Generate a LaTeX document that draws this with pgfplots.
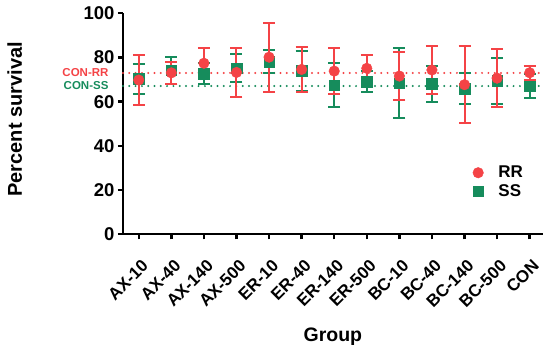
\documentclass[border=0pt]{standalone}
\usepackage{fontspec}
\setmainfont{Liberation Sans}
\usepackage{pgfplots}
\pgfplotsset{compat=1.18}
\usepackage{pgfplotstable}
\definecolor{rrred}{RGB}{244,67,70}
\definecolor{ssgreen}{RGB}{22,140,92}

\pgfplotstableread{
x y e
0 69.8 11.3
1 73.05 5.05
2 77.4 7.0
3 73.25 10.95
4 80.15 15.65
5 74.6 10.3
6 73.85 10.35
7 75.1 6.2
8 71.6 10.8
9 74.35 10.85
10 67.7 17.5
11 70.65 13.15
12 73.1 3.2
}\rrdata

\pgfplotstableread{
x y e
0 70.35 6.85
1 74.3 6.1
2 72.7 4.8
3 75.2 6.3
4 78.1 5.3
5 73.95 9.15
6 67.55 10.05
7 69.1 4.7
8 68.4 15.9
9 68.15 8.15
10 66.0 7.0
11 69.4 10.5
12 67.1 5.3
}\ssdata

\begin{document}
\begin{tikzpicture}
\useasboundingbox (-123pt,-110.7pt) rectangle (427pt,234.3pt);
\begin{axis}[
  scale only axis, width=419.7pt, height=221pt,
  xmin=-0.484, xmax=12.4, ymin=0, ymax=100,
  axis x line=bottom, axis y line=left,
  axis line style={line width=2.4pt, -},
  clip=false,
  ytick={0,20,...,100},
  xtick={0,...,12},
  xticklabels={AX-10,AX-40,AX-140,AX-500,ER-10,ER-40,ER-140,ER-500,BC-10,BC-40,BC-140,BC-500,CON},
  tick style={line width=2.4pt, black},
  major tick length=5pt, tick align=outside,
  /pgf/number format/assume math mode=true,
  xticklabel shift=19pt,
  x tick label style={xshift=2pt, rotate=45, anchor=north east, inner sep=0pt, font=\bfseries\fontsize{17}{17}\selectfont},
  y tick label style={font=\bfseries\fontsize{18.5}{19}\selectfont},
  xlabel={Group}, ylabel={Percent survival},
  xlabel style={at={(axis description cs:0.5,-0.483)}, anchor=base, font=\bfseries\fontsize{19.5}{20}\selectfont},
  ylabel style={at={(axis description cs:-0.258,0.52)}, anchor=center, font=\bfseries\fontsize{20}{20}\selectfont},
  legend style={at={(axis description cs:0.826,0.237)}, anchor=west, draw=none, fill=none,
    font=\bfseries\fontsize{17}{17}\selectfont, row sep=1pt,
    /tikz/every odd column/.append style={column sep=13pt}},
  legend cell align=left,
  reverse legend,
]
\addplot[ssgreen, line width=2.2pt, dash pattern=on 0pt off 6.3pt, line cap=round, forget plot] coordinates {(-0.484,67.1) (12.4,67.1)};
\addplot[rrred, line width=2.2pt, dash pattern=on 0pt off 6.3pt, line cap=round, forget plot] coordinates {(-0.484,73.0) (12.4,73.0)};
\node[anchor=east, text=rrred, font=\bfseries\fontsize{11.5}{12}\selectfont, xshift=-11pt] at (axis cs:-0.484,73.0) {CON-RR};
\node[anchor=east, text=ssgreen, font=\bfseries\fontsize{11.5}{12}\selectfont, xshift=-11pt] at (axis cs:-0.484,67.1) {CON-SS};

\addplot[only marks, mark=square*, mark size=5.3pt, ssgreen,
  error bars/.cd, y dir=both, y explicit,
  error bar style={line width=2pt, ssgreen},
  error mark options={rotate=90, line width=2pt, mark size=6pt, ssgreen}]
  table[x=x, y=y, y error=e] {\ssdata};
\addlegendentry{SS}
\addplot[only marks, mark=*, mark size=5.3pt, rrred,
  error bars/.cd, y dir=both, y explicit,
  error bar style={line width=2pt, rrred},
  error mark options={rotate=90, line width=2pt, mark size=6pt, rrred}]
  table[x=x, y=y, y error=e] {\rrdata};
\addlegendentry{RR}
\end{axis}
\end{tikzpicture}
\end{document}
